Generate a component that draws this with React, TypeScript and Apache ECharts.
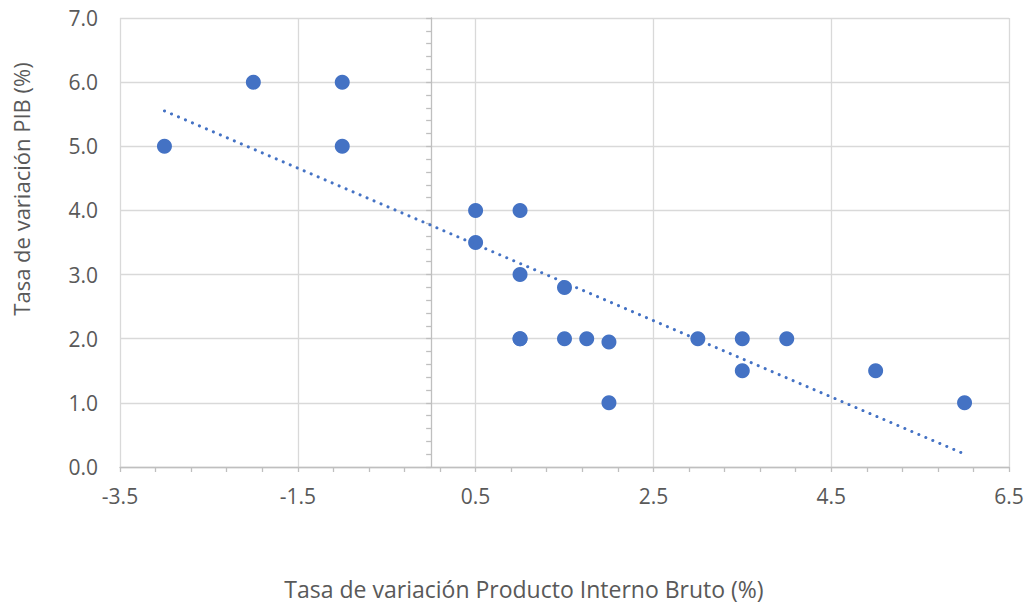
import React, { useEffect, useRef } from "react";
import * as echarts from "echarts";

const xValues = [-3, -2, -1, -1, 0.5, 0.5, 1, 1, 1, 1, 1.5, 1.5, 1.75, 2, 2, 3, 3.5, 3.5, 4, 5, 6];
const yValues = [5, 6, 6, 5, 4, 3.5, 4, 3, 2, 2, 2.8, 2, 2, 1.95, 1, 2, 2, 1.5, 2, 1.5, 1];
const xTitle = "Tasa de variación Producto Interno Bruto (%)";
const yTitle = "Tasa de variación PIB (%)";

const FONT = "'Open Sans', sans-serif";
const TXT = "#595959";

export default function App() {
  const ref = useRef<HTMLDivElement>(null);
  useEffect(() => {
    document.body.style.margin = "0";
    const chart = echarts.init(ref.current!, null, { renderer: "svg" });
    const pts = xValues.map((x, i) => [x, yValues[i]]);
    const n = xValues.length;
    const mx = xValues.reduce((a, b) => a + b, 0) / n;
    const my = yValues.reduce((a, b) => a + b, 0) / n;
    let sxy = 0, sxx = 0;
    for (let i = 0; i < n; i++) {
      sxy += (xValues[i] - mx) * (yValues[i] - my);
      sxx += (xValues[i] - mx) ** 2;
    }
    const b = sxy / sxx;
    const a = my - b * mx;
    const x0 = Math.min(...xValues);
    const x1 = Math.max(...xValues);
    const trend = [[x0, a + b * x0], [x1, a + b * x1]];
    const axisColor = "#bfbfbf";
    const gridColor = "#d9d9d9";
    chart.setOption({
      animation: false,
      backgroundColor: "#fff",
      textStyle: { fontFamily: FONT },
      grid: { left: 120, right: 19, top: 18, bottom: 138 },
      xAxis: {
        type: "value",
        min: -3.5,
        max: 6.5,
        interval: 2,
        axisLine: { show: true, lineStyle: { color: axisColor, width: 1.3 } },
        axisTick: { show: true, length: 5, lineStyle: { color: axisColor, width: 1.3 } },
        minorTick: { show: true, splitNumber: 5, length: 5, lineStyle: { color: axisColor, width: 1.3 } },
        splitLine: { show: true, lineStyle: { color: gridColor, width: 1.3 } },
        axisLabel: {
          margin: 18,
          fontSize: 21,
          color: TXT,
          fontFamily: FONT,
          formatter: (v: number) => v.toFixed(1),
        },
      },
      yAxis: [
        {
          type: "value",
          min: 0,
          max: 7,
          interval: 1,
          position: "left",
          axisLine: { show: false, onZero: false },
          axisTick: { show: false },
          splitLine: { show: true, lineStyle: { color: gridColor, width: 1.3 } },
          axisLabel: {
            margin: 22,
            fontSize: 21,
            color: TXT,
            fontFamily: FONT,
            formatter: (v: number) => v.toFixed(1),
          },
        },
        {
          type: "value",
          min: 0,
          max: 7,
          interval: 1,
          position: "left",
          axisLine: { show: true, onZero: true, onZeroAxisIndex: 0, lineStyle: { color: axisColor, width: 1.3 } },
          axisTick: { show: true, length: 5, lineStyle: { color: axisColor, width: 1.3 } },
          minorTick: { show: true, splitNumber: 5, length: 5, lineStyle: { color: axisColor, width: 1.3 } },
          splitLine: { show: false },
          axisLabel: { show: false },
        },
      ],
      graphic: [
        {
          type: "text",
          x: 524,
          y: 589,
          style: {
            text: xTitle,
            fontSize: 23,
            lineHeight: 24,
            fontFamily: FONT,
            fill: TXT,
            textAlign: "center",
            textVerticalAlign: "middle",
          },
        },
        {
          type: "text",
          x: 21,
          y: 189,
          rotation: Math.PI / 2,
          style: {
            text: yTitle,
            fontSize: 22,
            fontFamily: FONT,
            fill: TXT,
            textAlign: "center",
            textVerticalAlign: "middle",
          },
        },
      ],
      series: [
        {
          type: "scatter",
          data: pts,
          symbol: "circle",
          symbolSize: 15,
          itemStyle: { color: "#4472C4", opacity: 1 },
          z: 3,
        },
        {
          type: "line",
          data: trend,
          symbol: "none",
          lineStyle: { color: "#4472C4", width: 3, type: [0.1, 7.5], cap: "round" },
          z: 4,
          silent: true,
        },
      ],
    });
    return () => chart.dispose();
  }, []);
  return <div ref={ref} style={{ width: 1028, height: 605 }} />;
}
